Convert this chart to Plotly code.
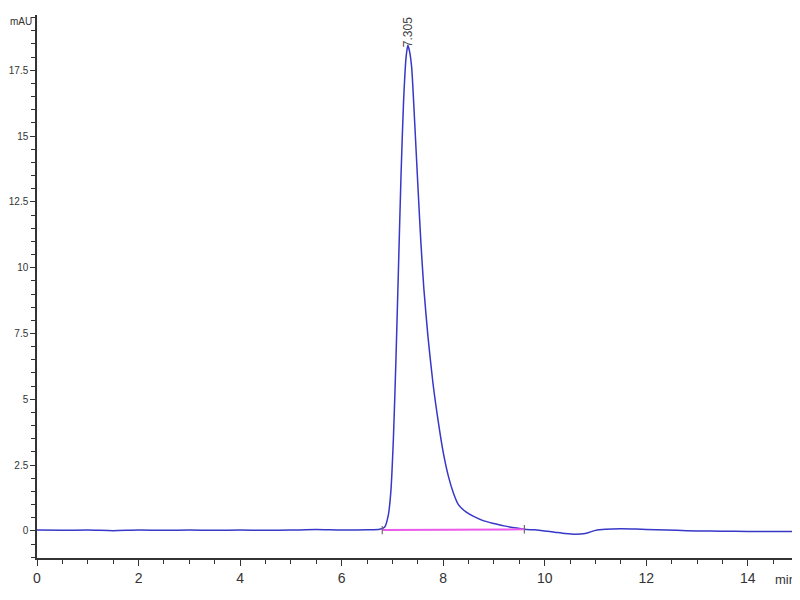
import plotly.graph_objects as go

# ---- data ----
time_min = [0, 0.5, 1, 1.5, 2, 2.5, 3, 3.5, 4, 4.5, 5, 5.5, 6, 6.5, 6.75,
            6.85, 6.92, 6.97, 7.02, 7.07, 7.12, 7.17, 7.22, 7.27, 7.305,
            7.34, 7.38, 7.44, 7.5, 7.56, 7.62, 7.7, 7.8, 7.9, 8.0, 8.1,
            8.2, 8.3, 8.45, 8.6, 8.8, 9.0, 9.2, 9.4, 9.6, 9.8, 10.0, 10.2,
            10.4, 10.6, 10.8, 11.0, 11.2, 11.5, 11.8, 12.2, 12.6, 13.0,
            13.5, 14.0, 14.5, 14.95]
signal_mau = [0.03, 0.02, 0.03, 0.01, 0.03, 0.02, 0.03, 0.02, 0.03, 0.02,
              0.03, 0.05, 0.03, 0.04, 0.06,
              0.15, 0.6, 1.5, 3.5, 6.5, 10.0, 13.5, 16.3, 18.0, 18.45,
              18.2, 17.6, 15.5, 13.2, 11.0, 9.2, 7.4, 5.6, 4.2, 3.0, 2.1,
              1.45, 1.0, 0.72, 0.55, 0.38, 0.28, 0.19, 0.12, 0.06, 0.04,
              0.0, -0.05, -0.1, -0.13, -0.1, 0.02, 0.06, 0.08, 0.07, 0.04,
              0.02, 0.0, -0.01, -0.02, -0.02, -0.02]

baseline_t = [6.8, 9.6]
baseline_y = [0.03, 0.06]

peak_rt = 7.305
peak_height = 18.45
peak_label = "7.305"

y_tickvals = [0, 2.5, 5, 7.5, 10, 12.5, 15, 17.5]
y_ticktext = ["0", "2.5", "5", "7.5", "10", "12.5", "15", "17.5"]
x_tickvals = [0, 2, 4, 6, 8, 10, 12, 14]

font_fam = "Liberation Sans, Arial"

fig = go.Figure()
fig.add_trace(go.Scatter(x=time_min, y=signal_mau, mode="lines",
                         line=dict(color="rgb(55,55,200)", width=1.5,
                                   shape="spline", smoothing=0.6),
                         showlegend=False, hoverinfo="skip"))
fig.add_trace(go.Scatter(x=baseline_t, y=baseline_y, mode="lines",
                         line=dict(color="rgb(235,90,235)", width=2),
                         showlegend=False, hoverinfo="skip"))
fig.add_trace(go.Scatter(x=baseline_t, y=baseline_y, mode="markers",
                         marker=dict(symbol="line-ns", size=6,
                                     line=dict(color="rgb(110,110,110)", width=1.2)),
                         showlegend=False, hoverinfo="skip"))

fig.add_annotation(x=peak_rt, y=peak_height, text=peak_label, textangle=-90,
                   showarrow=False, xanchor="center", yanchor="bottom",
                   yshift=-4, font=dict(family=font_fam, size=12, color="#444"))
fig.add_annotation(xref="paper", yref="paper", x=-0.0375, y=1.0, text="mAU",
                   showarrow=False, xanchor="left", yanchor="top",
                   borderpad=0,
                   font=dict(family=font_fam, size=10, color="#333"))
fig.add_annotation(xref="paper", yref="paper", x=1.0025, y=-0.022, text="min",
                   showarrow=False, xanchor="right", yanchor="top",
                   font=dict(family=font_fam, size=13, color="#333"))

axis_common = dict(showline=True, linecolor="#333", linewidth=1.5,
                   ticks="outside", tickcolor="#333", tickwidth=1.2,
                   showgrid=False, zeroline=False, automargin=False)

fig.update_xaxes(range=[0, 14.95], tickvals=x_tickvals, ticklen=6,
                 minor=dict(dtick=0.5, ticks="outside", ticklen=4,
                            tickcolor="#333", tickwidth=1),
                 tickfont=dict(family=font_fam, size=14, color="#333"),
                 **axis_common)
fig.update_yaxes(range=[-1.03, 19.6], tickvals=y_tickvals, ticktext=y_ticktext,
                 ticklen=5,
                 minor=dict(dtick=0.5, tick0=0, ticks="outside", ticklen=4,
                            tickcolor="#333", tickwidth=1),
                 tickfont=dict(family=font_fam, size=10, color="#333"),
                 **axis_common)

fig.update_layout(width=792, height=592,
                  margin=dict(l=29, r=4, t=7, b=42),
                  paper_bgcolor="white", plot_bgcolor="white")

fig.write_html("out.html")
